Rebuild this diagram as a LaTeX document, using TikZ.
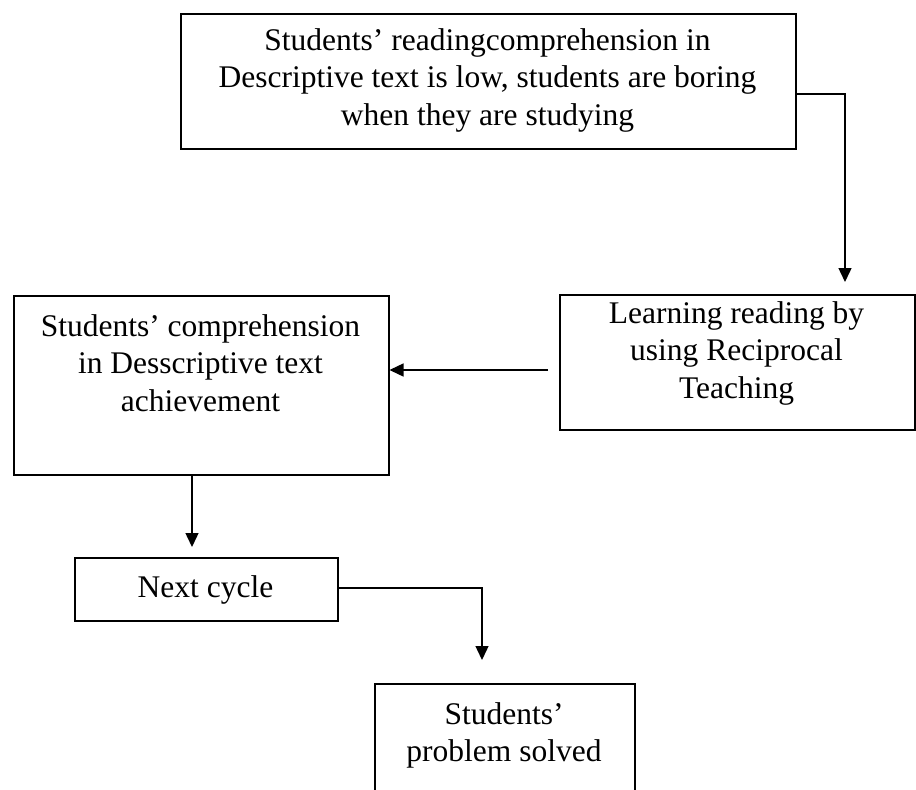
\documentclass[tikz,border=0pt]{standalone}
\usepackage{fontspec}
\setmainfont{Liberation Serif}
\usetikzlibrary{arrows.meta,calc}
\begin{document}
\begin{tikzpicture}[x=1pt,y=-1pt,
  box/.style={draw, line width=1.5pt, rectangle, inner sep=0pt, anchor=north west},
  txt/.style={anchor=north, align=center, inner sep=0pt, font=\fontsize{31.5}{37.8}\selectfont},
  conn/.style={line width=1.4pt},
  arr/.style={conn, -{Triangle[width=13pt,length=14pt]}}]
\useasboundingbox (0,0) rectangle (916,790);
\node[box, minimum width=615pt, minimum height=135pt] (top) at (180,13) {};
\node[txt] (toptext) at (487.5,28) {Students’ readingcomprehension in\\Descriptive text is low, students are boring\\when they are studying};
\node[box, minimum width=355pt, minimum height=135pt] (learn) at (559,294) {};
\node[txt] (learntext) at (736.5,301) {Learning reading by\\using Reciprocal\\Teaching};
\node[box, minimum width=375pt, minimum height=179pt] (comp) at (13,295) {};
\node[txt] (comptext) at (200.5,314) {Students’ comprehension\\in Desscriptive text\\achievement};
\node[box, minimum width=263pt, minimum height=63pt] (next) at (74,557) {};
\node[txt] (nexttext) at (205.5,575) {Next cycle};
\node[box, minimum width=260pt, minimum height=125pt] (prob) at (374,683) {};
\node[txt] (probtext) at (504,702) {Students’\\problem solved};
\coordinate (k1) at (845,94);
\coordinate (k2) at (500,370);
\coordinate (k3) at (192,500);
\coordinate (k4) at (482,588);
\draw[arr, shorten >=12pt] (top.east |- k1) -- (k1) -- (k1 |- learn.north);
\draw[arr, shorten <=11pt] (learn.west |- k2) -- (comp.east |- k2);
\draw[arr, shorten >=10pt] (comp.south -| k3) -- (next.north -| k3);
\draw[arr, shorten >=23pt] (next.east |- k4) -- (k4) -- (k4 |- prob.north);
\end{tikzpicture}
\end{document}
